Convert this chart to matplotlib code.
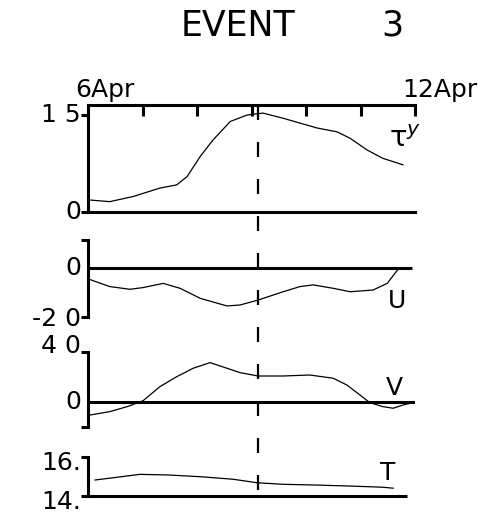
import numpy as np
import matplotlib
matplotlib.use('Agg')
import matplotlib.pyplot as plt
import matplotlib.transforms as mtransforms

# wind stress, along/cross-shore current and temperature, 6-12 April
tau_days = [6.04, 6.40, 6.83, 7.32, 7.63, 7.82, 8.06, 8.29, 8.61, 8.92, 9.21,
            9.58, 10.20, 10.57, 10.81, 11.12, 11.41, 11.78]
tau_vals = [1.85, 1.6, 2.4, 3.7, 4.2, 5.5, 8.6, 11.1, 14.0, 15.0, 15.3,
            14.5, 13.0, 12.4, 11.4, 9.6, 8.3, 7.3]

u_days = [6.02, 6.40, 6.77, 7.01, 7.38, 7.69, 8.06, 8.55, 8.79, 9.12, 9.58,
          9.89, 10.13, 10.50, 10.81, 11.23, 11.49, 11.69]
u_vals = [-4.6, -7.6, -8.7, -8.0, -6.3, -8.3, -12.4, -15.5, -15.1, -13.1, -9.7,
          -7.6, -6.9, -8.3, -9.7, -9.0, -6.3, -0.5]

v_days = [6.04, 6.40, 6.72, 7.01, 7.32, 7.63, 7.93, 8.24, 8.55, 8.79, 9.12,
          9.58, 10.07, 10.50, 10.75, 10.99, 11.17, 11.41, 11.60, 11.78, 11.96]
v_vals = [-10.4, -7.7, -3.7, 1.0, 12.3, 20.3, 27.0, 31.5, 27.0, 23.5, 20.8,
          20.8, 21.6, 19.0, 13.6, 5.6, -0.5, -3.7, -5.0, -2.4, -0.5]

t_days = [6.13, 6.53, 6.95, 7.45, 8.06, 8.66, 9.10, 9.58, 10.20, 10.81, 11.41, 11.60]
t_vals = [14.82, 14.96, 15.11, 15.08, 14.99, 14.86, 14.68, 14.60, 14.56, 14.51,
          14.45, 14.40]

event_day = 9.12

W, H = 498, 514
fig = plt.figure(figsize=(W / 100, H / 100), dpi=100)
plt.rcParams['font.family'] = 'DejaVu Sans'

left = 88 / W
width = (415 - 88) / W
lw_axis = 2.2
lw_curve = 0.9
fs = 18


def make_ax(top_px, bot_px):
    ax = fig.add_axes([left, 1 - bot_px / H, width, (bot_px - top_px) / H])
    ax.set_xlim(6, 12)
    ax.patch.set_alpha(0)
    for s in ['top', 'right', 'bottom']:
        ax.spines[s].set_visible(False)
    ax.spines['left'].set_linewidth(lw_axis)
    ax.set_xticks([])
    ax.tick_params(axis='y', direction='out', length=5, width=lw_axis, labelleft=False)
    return ax


def ylab(ax, y, s, dy=0):
    tr = mtransforms.offset_copy(ax.get_yaxis_transform(), fig=fig, x=-7, y=dy, units='dots')
    ax.text(0, y, s, transform=tr, ha='right', va='center', fontsize=fs)


# wind stress
ax1 = make_ax(105, 212)
ax1.set_ylim(0, 16.55)
ax1.spines['top'].set_visible(True)
ax1.spines['top'].set_linewidth(lw_axis)
ax1.spines['bottom'].set_visible(True)
ax1.spines['bottom'].set_linewidth(lw_axis)
ax1.xaxis.tick_top()
ax1.set_xticks(range(6, 13))
ax1.tick_params(axis='x', direction='in', length=8, width=lw_axis, labeltop=False)
ax1.set_yticks([0, 15])
ax1.plot(tau_days, tau_vals, color='black', lw=lw_curve)
ylab(ax1, 15, '1 5')
ylab(ax1, 0, '0')
for d, s in [(6, '6Apr'), (12, '12Apr')]:
    tr = mtransforms.offset_copy(ax1.get_xaxis_transform(), fig=fig, x=-13, y=3, units='dots')
    ax1.text(d, 1, s, transform=tr, ha='left', va='bottom', fontsize=fs)
ax1.text(11.52, 11.3, 'τ$^y$', fontsize=21, ha='left', va='center')

# along-shore current
ax2 = make_ax(240, 317)
ax2.set_ylim(-20, 11.4)
ax2.set_yticks([-20, 11.4])
ax2.hlines(0, 6, 11.95, color='black', lw=lw_axis)
ax2.plot(u_days, u_vals, color='black', lw=lw_curve)
ylab(ax2, 0, '0')
ylab(ax2, -20, '-2 0', dy=-2)
ax2.text(11.67, -13.5, 'U', fontsize=fs, ha='center', va='center')

# cross-shore current
ax3 = make_ax(352, 427)
ax3.set_ylim(-20, 40)
ax3.set_yticks([-20, 40])
ax3.hlines(0, 6, 12.0, color='black', lw=lw_axis)
ax3.plot(v_days, v_vals, color='black', lw=lw_curve)
ylab(ax3, 40, '4 0', dy=6)
ylab(ax3, 0, '0')
ax3.text(11.63, 11.0, 'V', fontsize=fs, ha='center', va='center')

# temperature
ax4 = make_ax(457, 496)
ax4.set_ylim(14, 16)
ax4.set_yticks([14, 16])
ax4.hlines(14, 6, 11.85, color='black', lw=lw_axis, clip_on=False)
ax4.plot(t_days, t_vals, color='black', lw=lw_curve)
ylab(ax4, 16, '16.', dy=-6)
ylab(ax4, 14, '14.', dy=-6)
ax4.text(11.5, 15.2, 'T', fontsize=fs, ha='center', va='center')

# event marker through all panels
ov = fig.add_axes([left, 1 - 493 / H, width, (493 - 105) / H])
ov.set_xlim(6, 12)
ov.set_ylim(0, 1)
ov.axis('off')
ov.plot([event_day, event_day], [1, 0], color='black', lw=1.6,
        linestyle=(0, (6.75, 9.9)))

fig.text(238 / W, 1 - 26 / H, 'EVENT', fontsize=25, ha='center', va='center')
fig.text(392 / W, 1 - 26 / H, '3', fontsize=25, ha='center', va='center')

fig.savefig('out.png', dpi=100)
